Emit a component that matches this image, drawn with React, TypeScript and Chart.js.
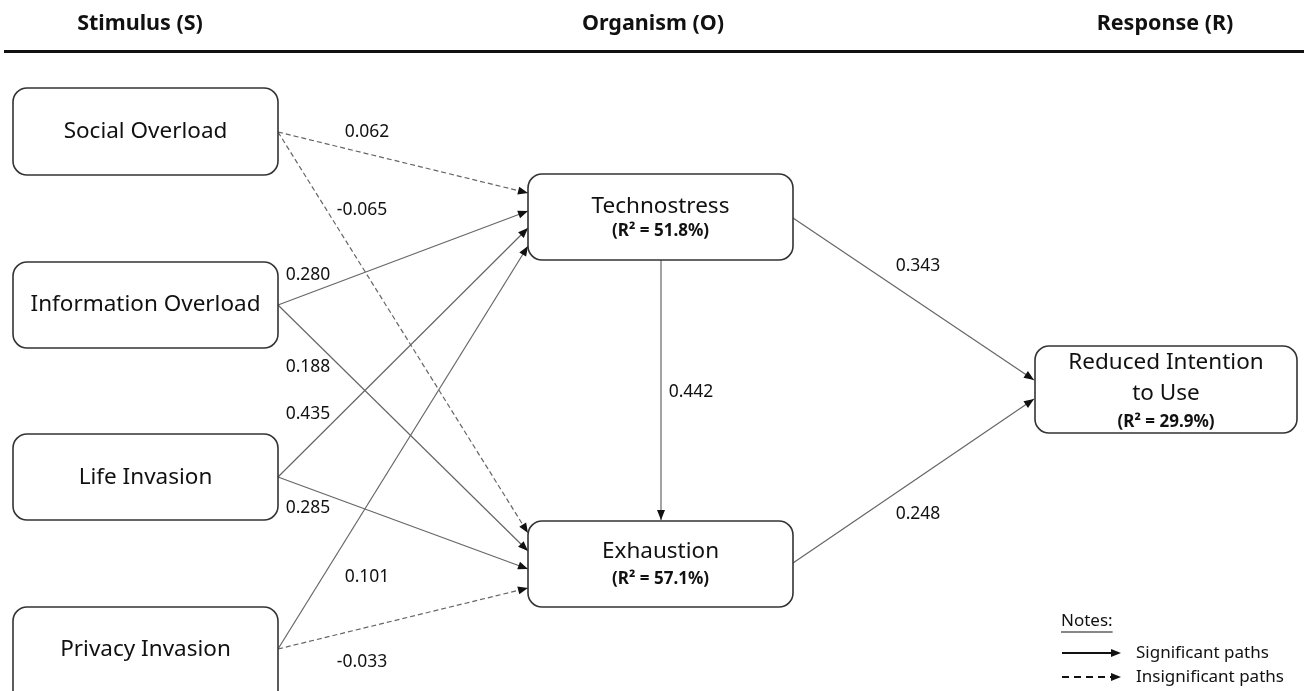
import React, { useEffect, useRef } from "react";
import { Chart, registerables } from "chart.js";

Chart.register(...registerables);

// ---- data ----
const stageLabels = ["Stimulus (S)", "Organism (O)", "Response (R)"];
const nodeNames = [
  "Social Overload",
  "Information Overload",
  "Life Invasion",
  "Privacy Invasion",
  "Technostress",
  "Exhaustion",
  "Reduced Intention to Use",
];
const nodeR2 = [null, null, null, null, 51.8, 57.1, 29.9];
const pathFrom = [0, 0, 1, 1, 2, 2, 3, 3, 4, 4, 5];
const pathTo = [4, 5, 4, 5, 4, 5, 4, 5, 5, 6, 6];
const pathCoef = [0.062, -0.065, 0.28, 0.188, 0.435, 0.285, 0.101, -0.033, 0.442, 0.343, 0.248];
const pathSignificant = [false, false, true, true, true, true, true, false, true, true, true];
const legendLabels = ["Notes:", "Significant paths", "Insignificant paths"];

// ---- layout (diagram coordinates) ----
const boxLayout = [
  { x1: 13, y1: 88, x2: 278, y2: 175, lines: ["Social Overload"], ty: [132], ry: 0 },
  { x1: 13, y1: 262, x2: 278, y2: 348, lines: ["Information Overload"], ty: [305], ry: 0 },
  { x1: 13, y1: 434, x2: 278, y2: 520, lines: ["Life Invasion"], ty: [478], ry: 0 },
  { x1: 13, y1: 607, x2: 278, y2: 705, lines: ["Privacy Invasion"], ty: [650], ry: 0 },
  { x1: 528, y1: 174, x2: 793, y2: 260, lines: ["Technostress"], ty: [207], ry: 231 },
  { x1: 528, y1: 521, x2: 793, y2: 607, lines: ["Exhaustion"], ty: [552], ry: 579 },
  { x1: 1035, y1: 346, x2: 1297, y2: 433, lines: ["Reduced Intention", "to Use"], ty: [363, 394], ry: 422 },
];
const pathAnchors = [
  [278, 132, 528, 193],
  [278, 132, 528, 533],
  [278, 305, 528, 211],
  [278, 305, 528, 551],
  [278, 477, 528, 228],
  [278, 477, 528, 569],
  [278, 649, 528, 246],
  [278, 649, 528, 588],
  [661, 260, 661, 520],
  [793, 218, 1034, 380],
  [793, 563, 1034, 399],
];
const labelPos = [
  [367, 132],
  [362, 210],
  [308, 275],
  [308, 367],
  [308, 414],
  [308, 508],
  [367, 577],
  [362, 662],
  [691, 392],
  [918, 266],
  [918, 514],
];

const FONT = "'Noto Sans', 'Open Sans', sans-serif";
const LINE_COLOR = "#666";

function roundRect(ctx: CanvasRenderingContext2D, x: number, y: number, w: number, h: number, r: number) {
  ctx.beginPath();
  ctx.moveTo(x + r, y);
  ctx.lineTo(x + w - r, y);
  ctx.arcTo(x + w, y, x + w, y + r, r);
  ctx.lineTo(x + w, y + h - r);
  ctx.arcTo(x + w, y + h, x + w - r, y + h, r);
  ctx.lineTo(x + r, y + h);
  ctx.arcTo(x, y + h, x, y + h - r, r);
  ctx.lineTo(x, y + r);
  ctx.arcTo(x, y, x + r, y, r);
  ctx.closePath();
}

function arrowHead(ctx: CanvasRenderingContext2D, x0: number, y0: number, x1: number, y1: number) {
  const a = Math.atan2(y1 - y0, x1 - x0);
  const L = 10;
  const W = 4;
  ctx.save();
  ctx.translate(x1, y1);
  ctx.rotate(a);
  ctx.beginPath();
  ctx.moveTo(0, 0);
  ctx.lineTo(-L, -W);
  ctx.lineTo(-L, W);
  ctx.closePath();
  ctx.fillStyle = "#111";
  ctx.fill();
  ctx.restore();
}

const diagramPlugin = {
  id: "diagram",
  afterDatasetsDraw(chart: any) {
    const ctx: CanvasRenderingContext2D = chart.ctx;
    const xs = chart.scales.x;
    const ys = chart.scales.y;
    const px = (v: number) => xs.getPixelForValue(v);
    const py = (v: number) => ys.getPixelForValue(v);

    // arrowheads for paths
    pathCoef.forEach((_, i) => {
      const meta = chart.getDatasetMeta(i);
      const p0 = meta.data[0];
      const p1 = meta.data[1];
      arrowHead(ctx, p0.x, p0.y, p1.x, p1.y);
    });

    // boxes
    boxLayout.forEach((b, i) => {
      const x1 = px(b.x1), x2 = px(b.x2), y1 = py(b.y1), y2 = py(b.y2);
      roundRect(ctx, x1, y1, x2 - x1, y2 - y1, 14);
      ctx.fillStyle = "#fff";
      ctx.fill();
      ctx.lineWidth = 1.6;
      ctx.strokeStyle = "#333";
      ctx.stroke();
      const cx = (x1 + x2) / 2;
      ctx.fillStyle = "#111";
      ctx.textAlign = "center";
      ctx.textBaseline = "middle";
      ctx.font = `22.5px ${FONT}`;
      b.lines.forEach((t, k) => ctx.fillText(t, cx, py(b.ty[k])));
      const r2 = nodeR2[i];
      if (r2 !== null) {
        ctx.font = `bold 17px ${FONT}`;
        ctx.fillText(`(R\u00B2 = ${r2.toFixed(1)}%)`, cx, py(b.ry));
      }
    });

    // coefficient labels
    ctx.font = `17.5px ${FONT}`;
    ctx.fillStyle = "#111";
    ctx.textAlign = "center";
    ctx.textBaseline = "middle";
    pathCoef.forEach((c, i) => {
      ctx.fillText(c.toFixed(3), px(labelPos[i][0]), py(labelPos[i][1]));
    });

    // headers
    ctx.font = `bold 21.5px ${FONT}`;
    ctx.fillStyle = "#111";
    const hx = [140, 653, 1165];
    stageLabels.forEach((s, i) => ctx.fillText(s, px(hx[i]), py(24)));
    ctx.beginPath();
    ctx.moveTo(px(4), py(51.5));
    ctx.lineTo(px(1304), py(51.5));
    ctx.lineWidth = 3;
    ctx.strokeStyle = "#111";
    ctx.stroke();

    // legend
    ctx.textAlign = "left";
    ctx.font = `17px ${FONT}`;
    ctx.fillStyle = "#111";
    const nx = px(1061), ny = py(621);
    ctx.fillText(legendLabels[0], nx, ny);
    const w = ctx.measureText(legendLabels[0]).width;
    ctx.beginPath();
    ctx.moveTo(nx, ny + 11);
    ctx.lineTo(nx + w, ny + 11);
    ctx.lineWidth = 1.2;
    ctx.strokeStyle = "#111";
    ctx.stroke();
    [0, 1].forEach((k) => {
      const y = py(653 + k * 24);
      ctx.beginPath();
      ctx.setLineDash(k === 0 ? [] : [7, 5]);
      ctx.moveTo(px(1062), y);
      ctx.lineTo(px(1112), y);
      ctx.lineWidth = 1.8;
      ctx.strokeStyle = "#111";
      ctx.stroke();
      ctx.setLineDash([]);
      arrowHead(ctx, px(1062), y, px(1121), y);
      ctx.fillText(legendLabels[k + 1], px(1136), y);
    });
  },
};

export default function App() {
  const ref = useRef<HTMLCanvasElement | null>(null);
  useEffect(() => {
    document.body.style.margin = "0";
    if (!ref.current) return;
    const datasets = pathCoef.map((c, i) => {
      const a = pathAnchors[i];
      return {
        type: "line" as const,
        label: `${nodeNames[pathFrom[i]]} → ${nodeNames[pathTo[i]]}: ${c}`,
        data: [
          { x: a[0], y: a[1] },
          { x: a[2], y: a[3] },
        ],
        borderColor: LINE_COLOR,
        borderWidth: 1.2,
        borderDash: pathSignificant[i] ? [] : [5, 3],
        pointRadius: 0,
        showLine: true,
        fill: false,
        tension: 0,
      };
    });
    const chart = new Chart(ref.current, {
      type: "scatter",
      data: { datasets },
      options: {
        animation: false,
        responsive: false,
        maintainAspectRatio: false,
        devicePixelRatio: 1,
        layout: { padding: 0 },
        plugins: { legend: { display: false }, tooltip: { enabled: false } },
        scales: {
          x: { type: "linear", min: 0, max: 1304, display: false },
          y: { type: "linear", min: 0, max: 691, reverse: true, display: false },
        },
      },
      plugins: [diagramPlugin],
    });
    return () => chart.destroy();
  }, []);
  return (
    <div style={{ width: 1304, height: 691, background: "#fff" }}>
      <canvas ref={ref} width={1304} height={691} style={{ display: "block" }} />
    </div>
  );
}
